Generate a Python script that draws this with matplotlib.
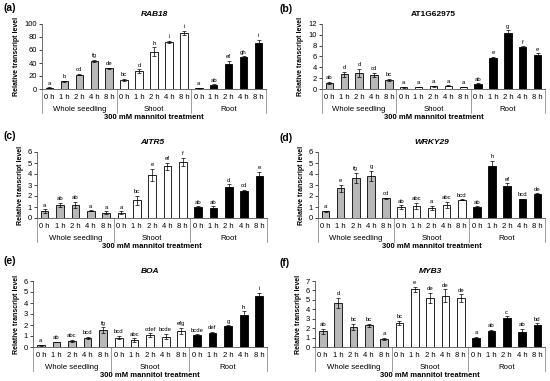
import matplotlib
matplotlib.use('Agg')
import matplotlib.pyplot as plt

plt.rcParams['font.family'] = ['Liberation Sans', 'DejaVu Sans']

# time points and tissue groups
times = ['0 h', '1 h', '2 h', '4 h', '8 h']
groups = ['Whole seedling', 'Shoot', 'Root']
group_colors = ['#B8B8B8', 'white', 'black']

# (a) RAB18
rab18_vals = [2, 12, 22, 43, 32, 14, 27, 57, 72, 86, 1, 6, 39, 49, 70]
rab18_err = [0.5, 1, 1, 1.5, 1, 2, 3, 7, 2, 3, 0.3, 1, 4, 1.5, 6]
rab18_sig = ['a', 'b', 'cd', 'fg', 'de', 'bc', 'd', 'h', 'i', 'i', 'a', 'ab', 'ef', 'gh', 'i']

# (b) AT1G62975
at1g_vals = [1.1, 2.7, 3.0, 2.6, 1.7, 0.3, 0.4, 0.5, 0.6, 0.4, 0.9, 5.8, 10.3, 7.7, 6.3]
at1g_err = [0.2, 0.5, 0.7, 0.4, 0.2, 0.05, 0.05, 0.05, 0.05, 0.05, 0.15, 0.1, 0.5, 0.2, 0.3]
at1g_sig = ['ab', 'd', 'd', 'cd', 'bc', 'a', 'a', 'a', 'a', 'a', 'ab', 'e', 'g', 'f', 'e']

# (c) AITR5
aitr5_vals = [0.65, 1.2, 1.2, 0.65, 0.5, 0.5, 1.6, 3.95, 4.7, 5.1, 1.0, 0.9, 2.85, 2.5, 3.8]
aitr5_err = [0.15, 0.2, 0.3, 0.05, 0.1, 0.1, 0.4, 0.55, 0.3, 0.35, 0.05, 0.15, 0.2, 0.05, 0.4]
aitr5_sig = ['a', 'ab', 'ab', 'a', 'a', 'a', 'bc', 'e', 'ef', 'f', 'ab', 'ab', 'd', 'cd', 'e']

# (d) WRKY29
wrky_vals = [0.6, 2.7, 3.65, 3.85, 1.8, 1.0, 1.1, 0.9, 1.2, 1.65, 1.0, 4.75, 2.95, 1.7, 2.2]
wrky_err = [0.05, 0.3, 0.45, 0.45, 0.05, 0.15, 0.25, 0.2, 0.25, 0.05, 0.05, 0.45, 0.2, 0.05, 0.03]
wrky_sig = ['a', 'e', 'fg', 'g', 'cd', 'ab', 'abc', 'a', 'abc', 'bcd', 'ab', 'h', 'ef', 'bcd', 'de']

# (e) BOA
boa_vals = [0.15, 0.45, 0.55, 0.8, 1.55, 0.85, 0.65, 1.1, 0.95, 1.45, 1.05, 1.25, 1.95, 2.95, 4.6]
boa_err = [0.03, 0.03, 0.1, 0.1, 0.25, 0.15, 0.15, 0.15, 0.25, 0.3, 0.1, 0.1, 0.03, 0.3, 0.35]
boa_sig = ['a', 'ab', 'abc', 'bcd', 'fg', 'bcd', 'abc', 'cdef', 'bcde', 'efg',
           'bcde', 'def', 'g', 'h', 'i']

# (f) MYB3
myb3_vals = [1.65, 4.7, 2.15, 2.3, 0.85, 2.55, 6.1, 5.2, 5.45, 5.2, 1.0, 1.7, 3.05, 1.6, 2.3]
myb3_err = [0.3, 0.55, 0.3, 0.15, 0.1, 0.25, 0.3, 0.55, 0.65, 0.4, 0.1, 0.1, 0.2, 0.3, 0.2]
myb3_sig = ['ab', 'd', 'bc', 'bc', 'a', 'bc', 'e', 'de', 'de', 'de', 'a', 'ab', 'c', 'ab', 'bd']

W, H = 550, 381
fig = plt.figure(figsize=(W / 100, H / 100), dpi=100)


def px_axes(left, right, top, bottom):
    return fig.add_axes([left / W, 1 - bottom / H, (right - left) / W, (bottom - top) / H])


def draw_panel(box, label, label_xy, title, italic, vals, errs, sig, ymax, ystep):
    ax = px_axes(*box)
    n = len(vals)
    xs = list(range(n))
    colors = [group_colors[i // 5] for i in xs]
    ax.bar(xs, vals, width=0.5, color=colors, edgecolor='black', linewidth=0.6,
           yerr=errs, error_kw=dict(ecolor='black', elinewidth=0.5, capsize=1.5, capthick=0.5))
    for x, v, e, s in zip(xs, vals, errs, sig):
        ax.annotate(s, (x, v + e), xytext=(0, 1.2), textcoords='offset points',
                    ha='center', va='bottom', fontsize=4.3)
    ax.set_xlim(-0.5, n - 0.5)
    ax.set_ylim(0, ymax)
    ticks = [i * ystep for i in range(int(round(ymax / ystep)) + 1)]
    ax.set_yticks(ticks)
    ax.set_yticklabels([f'{t:g}' for t in ticks])
    ax.set_xticks(xs)
    ax.set_xticklabels(times * 3)
    ax.tick_params(axis='x', length=0, pad=3.5, labelsize=5.5)
    ax.tick_params(axis='y', length=2, width=0.5, pad=1.5, labelsize=5.5)
    for side in ['top', 'right']:
        ax.spines[side].set_visible(False)
    for side in ['left', 'bottom']:
        ax.spines[side].set_linewidth(0.6)
        ax.spines[side].set_color('#555555')
    ax.set_ylabel('Relative transcript level', fontsize=5, fontweight='bold', labelpad=3)

    # second level category axis
    trans = ax.get_xaxis_transform()
    for xb in [-0.5, 4.5, 9.5, 14.5]:
        ax.plot([xb, xb], [0, -0.37], transform=trans, color='#777777', lw=0.5, clip_on=False)
    for i, g in enumerate(groups):
        ax.annotate(g, (i * 5 + 2, 0), xycoords=trans, xytext=(0, -14.5),
                    textcoords='offset points', ha='center', va='center', fontsize=5.6)
    ax.annotate('300 mM mannitol treatment', (7, 0), xycoords=trans, xytext=(0, -20.5),
                textcoords='offset points', ha='center', va='center', fontsize=5.5,
                fontweight='bold')

    ax.set_title(title, fontsize=6, fontweight='bold', style='italic' if italic else 'normal',
                 pad=5.5)
    fig.text(label_xy[0] / W, 1 - label_xy[1] / H, label, fontsize=7.5, fontweight='bold',
             ha='left', va='center')
    return ax


draw_panel((42, 266, 24, 89), '(a)', (3, 8), 'RAB18', True,
           rab18_vals, rab18_err, rab18_sig, 100, 20)
draw_panel((322, 545, 24, 89), '(b)', (280, 9), 'AT1G62975', False,
           at1g_vals, at1g_err, at1g_sig, 12, 2)
draw_panel((37, 267, 152, 218), '(c)', (3, 136), 'AITR5', True,
           aitr5_vals, aitr5_err, aitr5_sig, 6, 1)
draw_panel((318, 545, 152, 218), '(d)', (279, 138), 'WRKY29', True,
           wrky_vals, wrky_err, wrky_sig, 6, 1)
draw_panel((33, 267, 281, 347), '(e)', (3, 261), 'BOA', True,
           boa_vals, boa_err, boa_sig, 6, 1)
draw_panel((315, 545, 281, 347), '(f)', (280, 263), 'MYB3', True,
           myb3_vals, myb3_err, myb3_sig, 7, 1)

plt.savefig('out.png', dpi=100)
